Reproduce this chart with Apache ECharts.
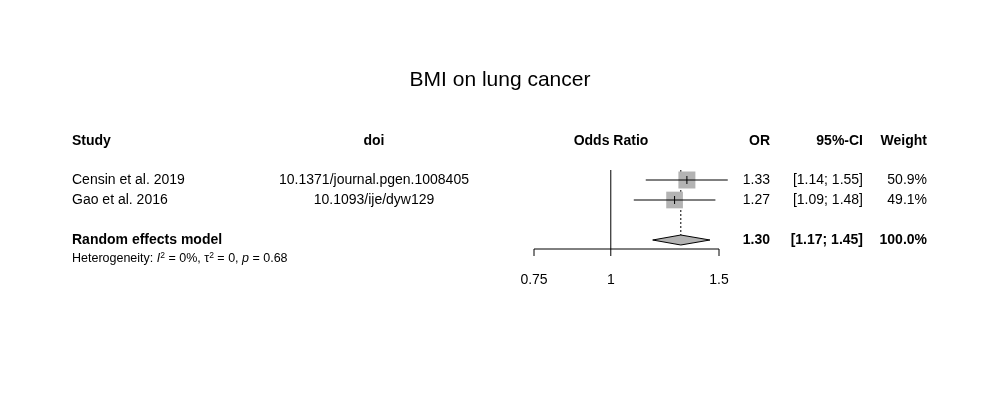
<!DOCTYPE html>
<html><head><meta charset="utf-8">
<script src="https://cdn.jsdelivr.net/npm/echarts@6/dist/echarts.min.js"></script>
<style>html,body{margin:0;background:#fff}#c{width:1000px;height:400px}</style>
</head><body><div id="c"></div>
<script>
const studies = ['Censin et al. 2019', 'Gao et al. 2016'];
const dois = ['10.1371/journal.pgen.1008405', '10.1093/ije/dyw129'];
const orVals = [1.33, 1.27];
const lower = [1.14, 1.09];
const upper = [1.55, 1.48];
const weights = [50.9, 49.1];
const pooled = {or: 1.30, lo: 1.17, hi: 1.45, w: 100.0};
const ticks = [0.75, 1, 1.5];
const rows = [1, 2];
const pooledRow = 4;

const chart = echarts.init(document.getElementById('c'));
const F = 'Liberation Sans, Arial, sans-serif';
const fmt = v => v.toFixed(2);
const g = [];
function txt(x, y, s, align, bold, size) {
  g.push({type: 'text', x: x, y: y, style: {text: s, textAlign: align, textVerticalAlign: 'middle',
    font: (bold ? 'bold ' : '') + (size || 14) + 'px ' + F, fill: '#000'}});
}
txt(500, 80, 'BMI on lung cancer', 'center', false, 21);
txt(72, 141, 'Study', 'left', true);
txt(374, 141, 'doi', 'center', true);
txt(611, 141, 'Odds Ratio', 'center', true);
txt(770, 141, 'OR', 'right', true);
txt(863, 141, '95%-CI', 'right', true);
txt(927, 141, 'Weight', 'right', true);
rows.forEach((r, i) => {
  const y = 160 + r * 20;
  txt(72, y, studies[i], 'left');
  txt(374, y, dois[i], 'center');
  txt(770, y, fmt(orVals[i]), 'right');
  txt(863, y, '[' + fmt(lower[i]) + '; ' + fmt(upper[i]) + ']', 'right');
  txt(927, y, weights[i].toFixed(1) + '%', 'right');
});
const py = 160 + pooledRow * 20;
txt(72, py, 'Random effects model', 'left', true);
txt(770, py, fmt(pooled.or), 'right', true);
txt(863, py, '[' + fmt(pooled.lo) + '; ' + fmt(pooled.hi) + ']', 'right', true);
txt(927, py, pooled.w.toFixed(1) + '%', 'right', true);
g.push({type: 'text', x: 72, y: 259, style: {
  text: 'Heterogeneity: {i|I}{s|2} = 0%, τ{s|2} = 0, {i|p} = 0.68',
  textVerticalAlign: 'middle', font: '12.5px ' + F, fill: '#000',
  rich: {i: {fontStyle: 'italic', fontSize: 12.5, fontFamily: F}, s: {fontSize: 8.5, fontFamily: F, verticalAlign: 'top', padding: [0,0,6,0]}}
}});

chart.setOption({
  animation: false,
  grid: {left: 534, width: 185, top: 160, height: 89},
  xAxis: {type: 'log', min: 0.75, max: 1.5, show: false},
  yAxis: {type: 'value', inverse: true, min: 0, max: 4.45, show: false},
  graphic: g,
  series: [
    {type: 'custom', data: [0], renderItem: (p, api) => {
      const ch = [];
      const a = api.coord([0.75, 4.45]), b = api.coord([1.5, 4.45]);
      ch.push({type: 'line', shape: {x1: a[0], y1: a[1], x2: b[0], y2: b[1]}, style: {stroke: '#000', lineWidth: 1}});
      ticks.forEach(t => {
        const c = api.coord([t, 4.45]);
        ch.push({type: 'line', shape: {x1: c[0], y1: c[1], x2: c[0], y2: c[1] + 7}, style: {stroke: '#000', lineWidth: 1}});
        ch.push({type: 'text', x: c[0], y: c[1] + 31, style: {text: String(t), textAlign: 'center', textVerticalAlign: 'middle', font: '14px ' + F, fill: '#000'}});
      });
      const v1 = api.coord([1, 0.5]), v2 = api.coord([1, 4.45]);
      ch.push({type: 'line', shape: {x1: v1[0], y1: v1[1], x2: v2[0], y2: v2[1]}, style: {stroke: '#000', lineWidth: 1}});
      const d1 = api.coord([pooled.or, 0.5]), d2 = api.coord([pooled.or, pooledRow]);
      ch.push({type: 'line', shape: {x1: d1[0], y1: d1[1], x2: d2[0], y2: d2[1]}, style: {stroke: '#000', lineWidth: 1, lineDash: [2, 2]}});
      rows.forEach((r, i) => {
        const l = api.coord([lower[i], r]), u = api.coord([upper[i], r]), m = api.coord([orVals[i], r]);
        const s = 17 * Math.sqrt(weights[i] / 50.9);
        ch.push({type: 'rect', shape: {x: m[0] - s / 2, y: m[1] - s / 2, width: s, height: s}, style: {fill: '#b3b3b3'}});
        ch.push({type: 'line', shape: {x1: l[0], y1: l[1], x2: u[0], y2: u[1]}, style: {stroke: '#000', lineWidth: 1}});
        ch.push({type: 'line', shape: {x1: m[0], y1: m[1] - 4, x2: m[0], y2: m[1] + 4}, style: {stroke: '#000', lineWidth: 1}});
      });
      const L = api.coord([pooled.lo, pooledRow]), H = api.coord([pooled.hi, pooledRow]), M = api.coord([pooled.or, pooledRow]);
      ch.push({type: 'polygon', shape: {points: [[L[0], L[1]], [M[0], M[1] - 5], [H[0], H[1]], [M[0], M[1] + 5]]}, style: {fill: '#b3b3b3', stroke: '#000', lineWidth: 1}});
      return {type: 'group', children: ch};
    }}
  ]
});
</script></body></html>
